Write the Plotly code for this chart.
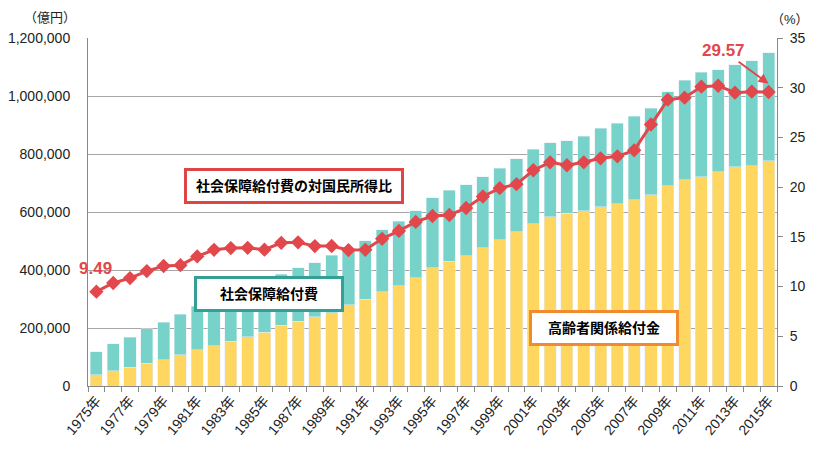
import plotly.graph_objects as go

# 年度
years = [f"{y}年" for y in range(1975, 2016)]

# 社会保障給付費（億円）
total_benefit = [
    117693, 145165, 168868, 197763, 219832, 247736, 275638, 300973, 319733, 336396,
    356798, 385918, 407337, 424582, 450413, 474153, 501346, 538280, 568974, 604727,
    649842, 675475, 694187, 721411, 750417, 783985, 816667, 838402, 845305, 860880,
    888529, 906727, 930809, 958441, 1015255, 1053646, 1082744, 1090781, 1107796, 1121734,
    1148596,
]

# 高齢者関係給付費（億円）
elderly_benefit = [
    38800, 52000, 65000, 79000, 90000, 107500, 125000, 139000, 155000, 169000,
    186000, 210000, 224000, 238000, 253000, 280000, 300000, 325000, 346000, 373000,
    408000, 431000, 450000, 477000, 505000, 532000, 560000, 583000, 595000, 604000,
    618000, 629000, 642000, 659000, 691000, 711000, 721000, 739000, 756000, 760000,
    776000,
]

# 社会保障給付費の対国民所得比（%）
ratio = [
    9.49, 10.36, 10.85, 11.56, 12.07, 12.15, 13.03, 13.70, 13.87, 13.90,
    13.71, 14.40, 14.45, 14.07, 14.08, 13.67, 13.70, 14.80, 15.60, 16.50,
    17.10, 17.20, 17.90, 19.06, 19.90, 20.30, 21.70, 22.50, 22.20, 22.50,
    22.90, 23.10, 23.70, 26.30, 28.80, 29.00, 30.10, 30.20, 29.50, 29.60,
    29.57,
]

other_benefit = [t - e for t, e in zip(total_benefit, elderly_benefit)]
tick_text = [y if i % 2 == 0 else "" for i, y in enumerate(years)]

FONT = "Liberation Sans, Noto Sans CJK JP, sans-serif"
RED = "#E2474B"
GRID = "#A6A6A6"

fig = go.Figure()
fig.add_trace(go.Bar(x=years, y=elderly_benefit, marker_color="#FFD65F",
                     name="高齢者関係給付金"))
fig.add_trace(go.Bar(x=years, y=other_benefit, marker_color="#77D2CA",
                     name="社会保障給付費"))
fig.add_trace(go.Scatter(
    x=years, y=ratio, yaxis="y2", mode="lines+markers",
    line={"color": RED, "width": 3},
    marker={"symbol": "diamond", "size": 11, "color": RED},
    name="社会保障給付費の対国民所得比",
))


def note(text, x, y, **kw):
    base = dict(text=text, x=x, y=y, xref="paper", yref="paper",
                xanchor="center", yanchor="middle", showarrow=False)
    base.update(kw)
    return base


box_font = {"family": FONT, "size": 14, "color": "#000000"}
unit_font = {"family": FONT, "size": 13, "color": "#222222"}
annotations = [
    note("（億円）", -0.055, 1.06, font=unit_font),
    note("（%）", 1.019, 1.052, font=unit_font),
    note("<b>社会保障給付費の対国民所得比</b>", 0.299, 0.576, font=box_font,
         bgcolor="white", bordercolor="#E04545", borderwidth=3, borderpad=4,
         width=206, height=22),
    note("<b>社会保障給付費</b>", 0.263, 0.264, font=box_font,
         bgcolor="white", bordercolor="#34A095", borderwidth=3, borderpad=4,
         width=136, height=22),
    note("<b>高齢者関係給付金</b>", 0.749, 0.167, font=box_font,
         bgcolor="white", bordercolor="#F28A2E", borderwidth=3, borderpad=4,
         width=136, height=22),
    note(f"<b>{ratio[0]:.2f}</b>", 0.011, 0.337,
         font={"family": FONT, "size": 17, "color": RED}),
    dict(text=f"<b>{ratio[-1]:.2f}</b>", x=years[-1], y=30.4,
         xref="x", yref="y2", showarrow=True, ax=-45, ay=-33,
         arrowhead=2, arrowsize=1, arrowwidth=2, arrowcolor=RED,
         font={"family": FONT, "size": 17, "color": RED}),
]

fig.update_layout(
    width=819, height=454, autosize=False,
    margin={"l": 88, "r": 42, "t": 38, "b": 68},
    paper_bgcolor="white", plot_bgcolor="white",
    barmode="stack", bargap=0.28, showlegend=False,
    font={"family": FONT, "size": 13, "color": "#222222"},
    annotations=annotations,
    xaxis={
        "type": "category", "range": [-0.5, len(years) - 0.5],
        "tickvals": years, "ticktext": tick_text,
        "tickangle": -50, "tickson": "boundaries", "ticks": "outside",
        "ticklen": 5, "tickcolor": "#888888", "showline": True,
        "linecolor": "#888888", "showgrid": False, "automargin": False,
        "tickfont": {"family": FONT, "size": 14, "color": "#222222"},
    },
    yaxis={
        "range": [0, 1200000], "dtick": 200000, "tickformat": ",",
        "showgrid": True, "gridcolor": GRID, "gridwidth": 1,
        "showline": True, "linecolor": "#888888", "zeroline": False,
        "ticks": "", "ticklabelstandoff": 14, "automargin": False,
        "tickfont": {"family": FONT, "size": 14, "color": "#222222"},
    },
    yaxis2={
        "range": [0, 35], "dtick": 5, "overlaying": "y", "side": "right",
        "showgrid": False, "showline": True, "linecolor": "#888888",
        "zeroline": False, "ticks": "outside", "ticklen": 5,
        "tickcolor": "#888888", "ticklabelstandoff": 4, "automargin": False,
        "tickfont": {"family": FONT, "size": 14, "color": "#222222"},
    },
)

fig.write_html(
    "out.html",
    config={"responsive": False, "displayModeBar": False},
    post_script="document.body.style.margin='0';document.body.style.overflow='hidden';",
)
